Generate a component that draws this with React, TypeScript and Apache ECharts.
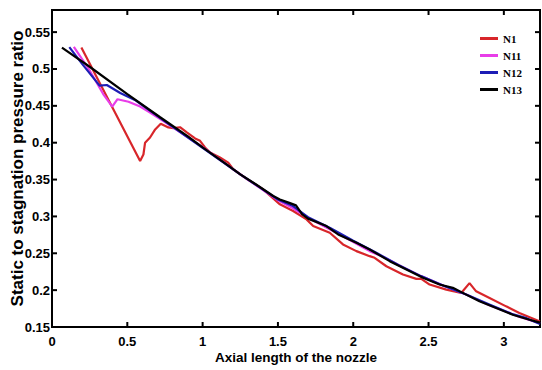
import React, { useEffect, useRef } from "react";
import * as echarts from "echarts";

const seriesNames = ["N1", "N11", "N12", "N13"];

const n1Data: [number, number][] = [
  [0.195, 0.529], [0.585, 0.3753], [0.607, 0.384], [0.618, 0.4], [0.651, 0.407],
  [0.685, 0.418], [0.722, 0.4257], [0.773, 0.4207], [0.806, 0.4198], [0.85, 0.421],
  [0.895, 0.414], [0.95, 0.4058], [0.983, 0.4025], [1.016, 0.3935], [1.049, 0.3867],
  [1.115, 0.38], [1.17, 0.373], [1.203, 0.364], [1.3, 0.35], [1.4, 0.337],
  [1.513, 0.3164], [1.601, 0.3073], [1.69, 0.296], [1.734, 0.2869], [1.844, 0.2779],
  [1.932, 0.262], [2.021, 0.2529], [2.109, 0.2461], [2.142, 0.2439], [2.22, 0.2324],
  [2.33, 0.2212], [2.419, 0.2153], [2.452, 0.2153], [2.507, 0.2076], [2.618, 0.2007],
  [2.717, 0.1962], [2.772, 0.2095], [2.816, 0.1984], [2.905, 0.1894], [3.015, 0.178],
  [3.103, 0.169], [3.24, 0.1576],
];

const n11Data: [number, number][] = [
  [0.145, 0.53], [0.25, 0.498], [0.34, 0.466], [0.4, 0.449], [0.435, 0.459],
  [0.508, 0.4556], [0.585, 0.449], [0.651, 0.441], [0.75, 0.428], [1.0, 0.394],
  [1.25, 0.357], [1.5, 0.322], [1.6, 0.311], [1.7, 0.298], [1.844, 0.2824],
  [1.95, 0.271], [2.109, 0.2529], [2.2, 0.245], [2.3, 0.234], [2.45, 0.219],
  [2.6, 0.206], [2.75, 0.194], [2.9, 0.18], [3.0, 0.172], [3.1, 0.164], [3.24, 0.155],
];

const n12Data: [number, number][] = [
  [0.115, 0.5296], [0.2, 0.507], [0.316, 0.4774], [0.364, 0.4783], [0.453, 0.4674],
  [0.55, 0.458], [0.75, 0.429], [1.0, 0.393], [1.25, 0.357], [1.5, 0.323],
  [1.6, 0.314], [1.7, 0.299], [1.85, 0.284], [2.0, 0.267], [2.15, 0.251],
  [2.3, 0.234], [2.45, 0.219], [2.6, 0.206], [2.75, 0.194], [2.9, 0.181],
  [3.05, 0.168], [3.15, 0.162], [3.24, 0.154],
];

const n13Data: [number, number][] = [
  [0.066, 0.529], [0.25, 0.503], [0.5, 0.466], [0.718, 0.4345], [0.9, 0.409],
  [1.0, 0.3936], [1.15, 0.372], [1.25, 0.357], [1.35, 0.344], [1.469, 0.3277],
  [1.513, 0.323], [1.58, 0.318], [1.62, 0.315], [1.66, 0.303], [1.7, 0.297],
  [1.822, 0.2869], [1.9, 0.2756], [2.021, 0.2643], [2.109, 0.2552], [2.242, 0.2393],
  [2.353, 0.228], [2.463, 0.2167], [2.573, 0.2076], [2.661, 0.2031], [2.75, 0.1939],
  [2.838, 0.1848], [2.949, 0.1758], [3.059, 0.1667], [3.17, 0.1599], [3.24, 0.156],
];

const xTicks = [0, 0.5, 1, 1.5, 2, 2.5, 3];
const yTicks = [0.15, 0.2, 0.25, 0.3, 0.35, 0.4, 0.45, 0.5, 0.55];
const X_MIN = 0, X_MAX = 3.24, Y_MIN = 0.15, Y_MAX = 0.58;

const seriesColors = ["#d8262a", "#e83de8", "#1d1db5", "#000000"];
const xTitle = "Axial length of the nozzle";
const yTitle = "Static to stagnation pressure ratio";

const SANS = "'Liberation Sans',Arial,sans-serif";
const W = 542;
const H = 370;
const GRID = { left: 52, right: 2, top: 10, bottom: 43 };

export default function App() {
  const ref = useRef<HTMLDivElement>(null);
  useEffect(() => {
    document.body.style.margin = "0";
    if (!ref.current) return;
    const chart = echarts.init(ref.current, undefined, { renderer: "svg" });
    const allData = [n1Data, n11Data, n12Data, n13Data];

    const L = GRID.left, T = GRID.top, R = W - GRID.right, B = H - GRID.bottom;
    const lw = 2;
    const frame = [
      { type: "rect", shape: { x: L - 1, y: T - 1, width: R - L + 2, height: lw }, style: { fill: "#000" } },
      { type: "rect", shape: { x: L - 1, y: B - 1, width: R - L + 2, height: lw }, style: { fill: "#000" } },
      { type: "rect", shape: { x: L - 1, y: T - 1, width: lw, height: B - T + 2 }, style: { fill: "#000" } },
      { type: "rect", shape: { x: R - 1, y: T - 1, width: lw, height: B - T + 2 }, style: { fill: "#000" } },
    ];

    // tick marks: kind 0 = x tick, kind 1 = y tick; placed via api.coord
    const tickData: number[][] = [
      ...xTicks.map((v) => [0, v]),
      ...yTicks.map((v) => [1, v]),
    ];

    chart.setOption({
      animation: false,
      grid: { ...GRID, containLabel: false, outerBoundsMode: "none" },
      graphic: frame,
      legend: {
        data: seriesNames,
        orient: "vertical",
        left: 480,
        top: 32,
        padding: 0,
        icon: "rect",
        itemWidth: 18,
        itemHeight: 3,
        itemGap: 4,
        textStyle: {
          fontFamily: "'Liberation Serif','Times New Roman',serif",
          fontWeight: "bold",
          fontSize: 11,
          lineHeight: 13,
          color: "#000",
        },
      },
      xAxis: {
        type: "value",
        min: X_MIN,
        max: X_MAX,
        interval: 0.5,
        name: xTitle,
        nameLocation: "middle",
        nameGap: 23,
        nameMoveOverlap: false,
        nameTextStyle: { fontFamily: SANS, fontWeight: "bold", fontSize: 13.5, color: "#000" },
        axisLine: { show: false },
        axisTick: { show: false },
        splitLine: { show: false },
        axisLabel: { showMaxLabel: false, margin: 8, fontFamily: SANS, fontWeight: "bold", fontSize: 13, color: "#000" },
      },
      yAxis: {
        type: "value",
        min: Y_MIN,
        max: Y_MAX,
        interval: 0.05,
        name: yTitle,
        nameLocation: "middle",
        nameGap: 26,
        nameMoveOverlap: false,
        nameTextStyle: { fontFamily: SANS, fontWeight: "bold", fontSize: 17, color: "#000" },
        axisLine: { show: false },
        axisTick: { show: false },
        splitLine: { show: false },
        axisLabel: { showMaxLabel: false, margin: 2, fontFamily: SANS, fontWeight: "bold", fontSize: 13, color: "#000" },
      },
      series: [
        ...seriesNames.map((name, i) => ({
          name,
          type: "line",
          data: allData[i],
          showSymbol: false,
          symbol: "none",
          z: 3,
          lineStyle: { color: seriesColors[i], width: 2.2 },
          itemStyle: { color: seriesColors[i] },
        })),
        {
          name: "ticks",
          type: "custom",
          clip: false,
          z: 5,
          data: tickData,
          encode: { x: 1, y: 1 },
          renderItem: (params: any, api: any) => {
            const kind = api.value(0);
            const v = api.value(1);
            const len = 5;
            if (kind === 0) {
              const px = api.coord([v, Y_MIN])[0];
              return {
                type: "group",
                children: [
                  { type: "rect", shape: { x: px - 1, y: B - len, width: 2, height: len }, style: { fill: "#000" } },
                  { type: "rect", shape: { x: px - 1, y: T, width: 2, height: len }, style: { fill: "#000" } },
                ],
              };
            }
            const py = api.coord([X_MIN, v])[1];
            return {
              type: "group",
              children: [
                { type: "rect", shape: { x: L, y: py - 1, width: len, height: 2 }, style: { fill: "#000" } },
                { type: "rect", shape: { x: R - len, y: py - 1, width: len, height: 2 }, style: { fill: "#000" } },
              ],
            };
          },
        },
      ],
    });
    return () => chart.dispose();
  }, []);
  return <div ref={ref} style={{ width: W, height: H }} />;
}
